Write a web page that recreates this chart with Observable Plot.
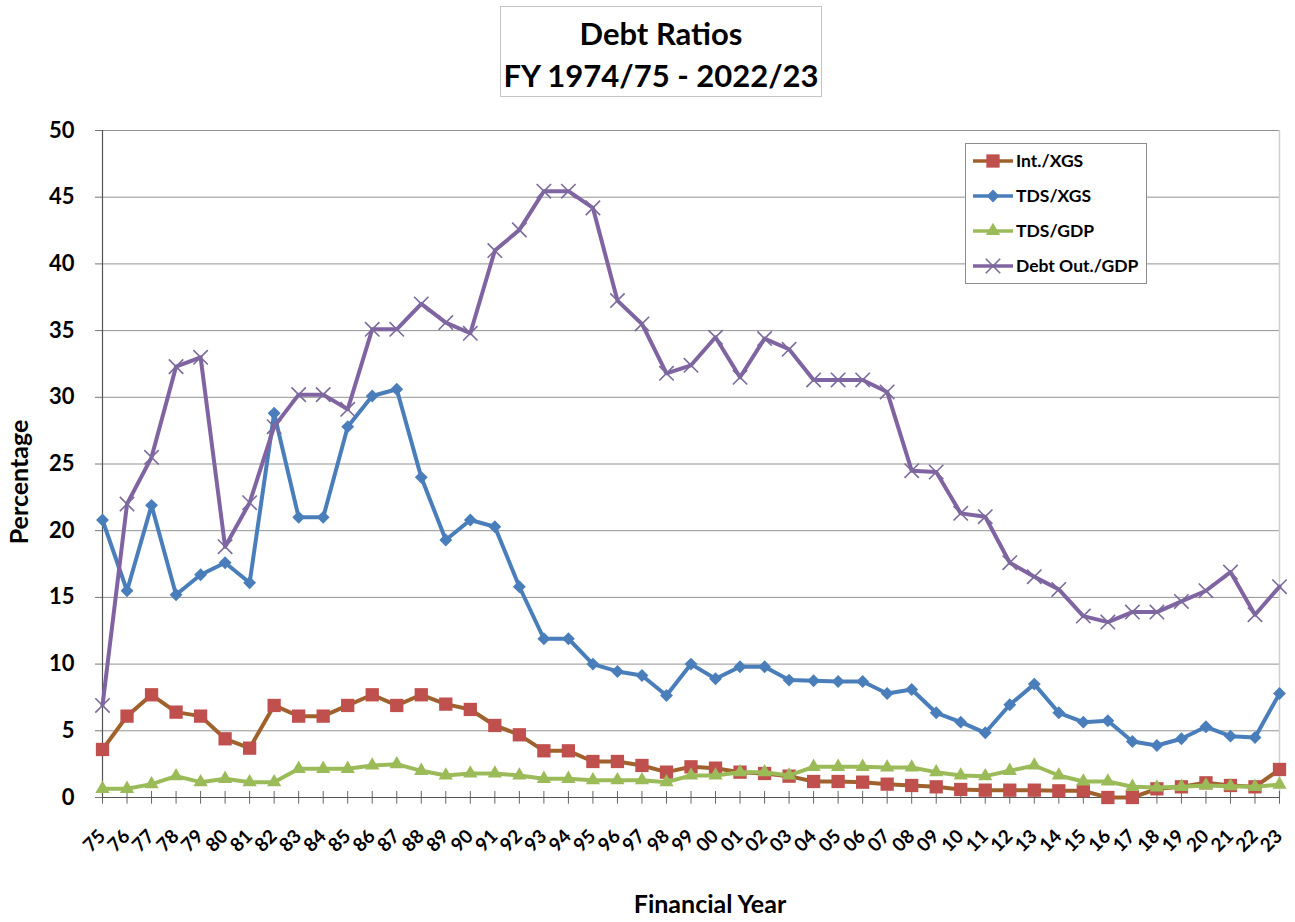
<!DOCTYPE html>
<html>
<head>
<meta charset="utf-8">
<script src="https://cdn.jsdelivr.net/npm/d3@7"></script>
<script src="https://cdn.jsdelivr.net/npm/@observablehq/plot@0.6"></script>
<style>
  body { margin: 0; background: #fff; font-family: Lato, "Open Sans", sans-serif; }
  #wrap { position: relative; width: 1295px; height: 922px; overflow: hidden; background: #fff; }
  #chart { position: absolute; left: 0; top: 0; }
  #title { position: absolute; left: 500px; top: 6px; width: 322px; height: 91px; box-sizing: border-box;
           border: 1px solid #c4c4c4; text-align: center; font-weight: 700; font-size: 31px; line-height: 42px;
           padding-top: 5px; color: #000; background: #fff; }
  #xtitle { position: absolute; left: 510px; width: 400px; top: 888px; text-align: center; font-weight: 700; font-size: 25px; color: #000; }
  #ytitle { position: absolute; left: 18px; top: 482px; transform: translate(-50%, -50%) rotate(-90deg); font-weight: 700; font-size: 25px; white-space: nowrap; color: #000; }
  #legend { position: absolute; left: 965px; top: 143px; }
</style>
</head>
<body>
<div id="wrap">
  <div id="chart"></div>
  <div id="title">Debt Ratios<br>FY 1974/75 - 2022/23</div>
  <div id="xtitle">Financial Year</div>
  <div id="ytitle">Percentage</div>
  <div id="legend"></div>
</div>
<script>
const years = ["75","76","77","78","79","80","81","82","83","84","85","86","87","88","89","90","91","92","93","94","95","96","97","98","99",
               "00","01","02","03","04","05","06","07","08","09","10","11","12","13","14","15","16","17","18","19","20","21","22","23"];

const intXGS  = [3.6,6.1,7.7,6.4,6.1,4.4,3.7,6.9,6.1,6.1,6.9,7.7,6.9,7.7,7.0,6.6,5.4,4.7,3.5,3.5,2.7,2.7,2.4,1.9,2.3,
                 2.2,1.9,1.8,1.6,1.2,1.2,1.15,1.0,0.9,0.8,0.6,0.55,0.55,0.55,0.5,0.5,0.0,0.0,0.65,0.8,1.1,0.9,0.8,2.1];
const tdsXGS  = [20.8,15.5,21.9,15.2,16.7,17.6,16.1,28.8,21.0,21.0,27.8,30.1,30.6,24.0,19.3,20.8,20.3,15.8,11.9,11.9,10.0,9.45,9.15,7.65,10.0,
                 8.9,9.8,9.8,8.8,8.75,8.7,8.7,7.8,8.1,6.35,5.65,4.85,6.95,8.5,6.35,5.65,5.75,4.2,3.9,4.4,5.3,4.6,4.5,7.8];
const tdsGDP  = [0.65,0.65,1.0,1.6,1.15,1.4,1.15,1.15,2.15,2.15,2.15,2.4,2.5,2.0,1.65,1.8,1.8,1.65,1.4,1.4,1.3,1.3,1.3,1.15,1.65,
                 1.65,1.9,1.9,1.65,2.3,2.3,2.3,2.25,2.25,1.9,1.65,1.6,2.0,2.4,1.65,1.2,1.2,0.8,0.75,0.8,0.9,0.85,0.8,0.97];
const debtGDP = [6.9,22.0,25.5,32.3,33.0,18.8,22.1,27.8,30.2,30.2,29.1,35.1,35.1,37.0,35.6,34.8,41.0,42.55,45.45,45.45,44.2,37.25,35.5,31.8,32.4,
                 34.5,31.5,34.4,33.6,31.3,31.3,31.3,30.4,24.5,24.4,21.3,21.05,17.6,16.55,15.6,13.6,13.15,13.9,13.9,14.7,15.5,16.9,13.7,15.8];

const seriesNames = ["Int./XGS", "TDS/XGS", "TDS/GDP", "Debt Out./GDP"];
const yTicks = [0,5,10,15,20,25,30,35,40,45,50];

const idx = years.map((_, i) => i);
const toRows = (name, vals) => vals.map((v, i) => ({series: name, i, year: years[i], value: v}));
const allRows = [toRows(seriesNames[0], intXGS), toRows(seriesNames[1], tdsXGS), toRows(seriesNames[2], tdsGDP), toRows(seriesNames[3], debtGDP)];

const styles = [
  {line: "#a0622d", marker: "#c0504d", symbol: "square",   r: 7.5, filled: true},
  {line: "#4a7ebb", marker: "#4a7ebb", symbol: "diamond2", r: 5.8, filled: true},
  {line: "#9bbb59", marker: "#9bbb59", symbol: "triangle", r: 5.3, filled: true},
  {line: "#8064a2", marker: "#7b6a9c", symbol: "times",    r: 6.6, filled: false}
];

const seriesMarks = allRows.flatMap((rows, k) => {
  const s = styles[k];
  const line = Plot.line(rows, {x: "i", y: "value", stroke: s.line, strokeWidth: 4, strokeLinejoin: "round"});
  const dot = s.filled
    ? Plot.dot(rows, {x: "i", y: "value", symbol: () => s.symbol, fill: s.marker, stroke: "none", r: s.r})
    : Plot.dot(rows, {x: "i", y: "value", symbol: () => s.symbol, stroke: s.marker, strokeWidth: 1.6, r: s.r});
  return [line, dot];
});

const chart = Plot.plot({
  width: 1295,
  height: 922,
  marginTop: 130,
  marginBottom: 125,
  marginLeft: 102,
  marginRight: 16,
  style: {fontFamily: "Lato, 'Open Sans', sans-serif", background: "transparent", color: "#000"},
  x: {domain: [0, years.length - 1], axis: null},
  y: {domain: [0, 50]},
  symbol: {type: "identity"},
  marks: [
    Plot.ruleY(yTicks.slice(1), {stroke: "#939393", strokeWidth: 1}),
    Plot.ruleX([years.length - 1], {stroke: "#cfcfcf", strokeWidth: 1.5}),
    Plot.ruleX(idx, {x: d => d, y1: -0.5, y2: 0.45, stroke: "#666", strokeWidth: 1}),
    Plot.axisY({ticks: yTicks, tickSize: 7, tickPadding: 21, fontSize: 22, fontWeight: "bold", stroke: "#777", label: null, tickFormat: d => String(d)}),
    Plot.text(idx, {x: d => d, text: d => years[d], frameAnchor: "bottom", rotate: -45, textAnchor: "end",
                    dx: 4, dy: 40, fontSize: 19, fontWeight: "bold", fill: "#000"}),
    Plot.ruleX([0], {stroke: "#555", strokeWidth: 1.2}),
    Plot.ruleY([0], {stroke: "#555", strokeWidth: 1.2}),
    ...seriesMarks
  ]
});
document.getElementById("chart").appendChild(chart);

// Legend
const lw = 182, lh = 141;
const leg = d3.select("#legend").append("svg").attr("width", lw).attr("height", lh)
  .style("font-family", "Lato, 'Open Sans', sans-serif");
leg.append("rect").attr("x", 0.5).attr("y", 0.5).attr("width", lw - 1).attr("height", lh - 1)
  .attr("fill", "#fff").attr("stroke", "#8c8c8c");
const symMap = {square: d3.symbolSquare, diamond2: d3.symbolDiamond2, triangle: d3.symbolTriangle, times: d3.symbolTimes};
seriesNames.forEach((name, k) => {
  const s = styles[k];
  const cy = 18 + k * 35;
  const g = leg.append("g");
  g.append("line").attr("x1", 8).attr("x2", 48).attr("y1", cy).attr("y2", cy)
    .attr("stroke", s.line).attr("stroke-width", 3.5);
  const path = d3.symbol(symMap[s.symbol], Math.PI * s.r * s.r)();
  const p = g.append("path").attr("d", path).attr("transform", `translate(28,${cy})`);
  if (s.filled) p.attr("fill", s.marker); else p.attr("fill", "none").attr("stroke", s.marker).attr("stroke-width", 1.6);
  g.append("text").attr("x", 51).attr("y", cy).attr("dy", "0.35em")
    .attr("font-size", 17.5).attr("font-weight", 700).attr("fill", "#000").text(name);
});
</script>
</body>
</html>
